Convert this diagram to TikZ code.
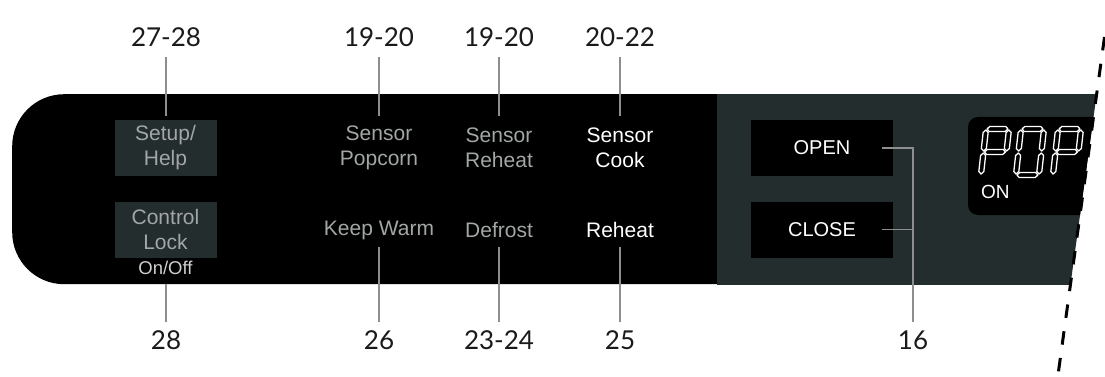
\documentclass[tikz,border=0pt]{standalone}
\usepackage{fontspec}
\newfontfamily\numfont{Lato}
\newfontfamily\keyfont{Liberation Sans}
\definecolor{panelgray}{HTML}{232D2D}
\definecolor{keygray}{HTML}{A2A6A6}
\definecolor{offgray}{HTML}{CFCFCF}
\definecolor{connc}{HTML}{8E8E8E}
\definecolor{numc}{HTML}{1A1A1A}
\newcommand\hsg[3]{\filldraw[seg] (#1,#3) -- ({#1+2.5},{#3-2.5}) -- ({#2-2.5},{#3-2.5}) -- (#2,#3) -- ({#2-2.5},{#3+2.5}) -- ({#1+2.5},{#3+2.5}) -- cycle;}
\newcommand\vsg[3]{\filldraw[seg] (#1,#2) -- ({#1+2.5},{#2+2.5}) -- ({#1+2.5},{#3-2.5}) -- (#1,#3) -- ({#1-2.5},{#3-2.5}) -- ({#1-2.5},{#2+2.5}) -- cycle;}
\newcommand\digP{\hsg{1}{22}{0}\vsg{23}{1}{22}\vsg{0}{1}{22}\hsg{1}{22}{23}\vsg{0}{24}{45}}
\newcommand\digZero{\hsg{1}{22}{0}\vsg{23}{1}{22}\vsg{23}{24}{45}\hsg{1}{22}{46}\vsg{0}{24}{45}\vsg{0}{1}{22}}
\begin{document}
\begin{tikzpicture}[x=1pt,y=-1pt,
  seg/.style={fill=black,draw=white,line width=1.3pt,line join=round},
  num/.style={font=\numfont\fontsize{26}{26}\selectfont,text=numc,inner sep=0pt,text height=19pt,text depth=0pt},
  keytop/.style={font=\keyfont\fontsize{21}{25}\selectfont,align=center,text=keygray,inner sep=0pt,minimum width=102pt,minimum height=56pt},
  keybot/.style={font=\keyfont\fontsize{21}{25}\selectfont,align=center,text=keygray,inner sep=0pt,minimum height=34pt},
  boxkey/.style={keytop,fill=panelgray},
  blackkey/.style={font=\keyfont\fontsize{20}{24}\selectfont,text=white,fill=black,inner sep=0pt,minimum width=142pt,minimum height=56pt},
  conn/.style={draw=connc,line width=1.5pt},
  upconn/.style={conn,shorten <=10pt,shorten >=4pt},
  downconn/.style={conn,shorten >=8.5pt}]
\useasboundingbox (0,0) rectangle (1105,377);
\fill[white] (0,0) rectangle (1105,377);
% main black panel
\node[fill=black,rounded corners=52pt,minimum width=788pt,minimum height=190pt,inner sep=0pt,anchor=north west] (panel) at (12,94) {};
% cut line coordinates
\coordinate (cutTop) at (1104.5,37);
\coordinate (cutBot) at (1058,375);
\begin{scope}
  \clip (0,0) -- (1109.6,0) -- (1057.75,377) -- (0,377) -- cycle;
  \fill[panelgray] (717,94) rectangle (1140,284.5);
  \fill[black,rounded corners=10pt] (968,117) rectangle (1140,215);
  \begin{scope}[shift={(986,129)},xslant=0.11]\digP\end{scope}
  \begin{scope}[shift={(1021,129)},xslant=0.11]\digZero\end{scope}
  \begin{scope}[shift={(1058,129)},xslant=0.11]\digP\end{scope}
  \node[anchor=west,font=\keyfont\fontsize{19}{19}\selectfont,text=white,inner sep=0pt] (on) at (981,192) {ON};
\end{scope}
% keys
\node[boxkey] (setup) at (165.5,148) {Setup/\\Help};
\node[boxkey] (lock) at (165.5,229.5) {Control\\Lock};
\node[font=\keyfont\fontsize{18.5}{18.5}\selectfont,text=offgray,inner sep=0pt] (onoff) at (165.5,268) {On/Off};
\node[keytop] (popcorn) at (379,148) {Sensor\\Popcorn};
\node[keytop] (sreheat) at (499,148) {Sensor\\Reheat};
\node[keytop,text=white] (cook) at (620,148) {Sensor\\Cook};
\node[keybot] (warm) at (379,230) {Keep Warm};
\node[keybot] (defrost) at (499,230) {Defrost};
\node[keybot,text=white] (reheat) at (620,230) {Reheat};
\node[blackkey] (open) at (822,148) {OPEN};
\node[blackkey] (close) at (822,229.5) {CLOSE};
% number labels
\node[num] (t1) at (166,37.5) {27-28};
\node[num] (t2) at (379,37.5) {19-20};
\node[num] (t3) at (499,37.5) {19-20};
\node[num] (t4) at (620,37.5) {20-22};
\node[num] (b1) at (166,340) {28};
\node[num] (b2) at (379,340) {26};
\node[num] (b3) at (499,340) {23-24};
\node[num] (b4) at (620,340) {25};
\node[num] (b5) at (913,340) {16};
% connectors
\draw[upconn] (t1.south) -- (t1.south |- setup.north);
\draw[upconn] (t2.south) -- (popcorn.north);
\draw[upconn] (t3.south) -- (sreheat.north);
\draw[upconn] (t4.south) -- (cook.north);
\draw[downconn] (panel.south -| b1.north) -- (b1.north);
\draw[downconn] (warm.south) -- (b2.north);
\draw[downconn] (defrost.south) -- (b3.north);
\draw[downconn] (reheat.south) -- (b4.north);
\draw[conn] ([xshift=-11pt]open.east) -| ([yshift=8.5pt]b5.north);
\draw[conn] ([xshift=-11pt]close.east) -- (close.east -| b5.north);
% dashed cut line
\draw[black,line width=3pt,dash pattern=on 13.5pt off 13.5pt] (cutTop) -- (cutBot);
\end{tikzpicture}
\end{document}
